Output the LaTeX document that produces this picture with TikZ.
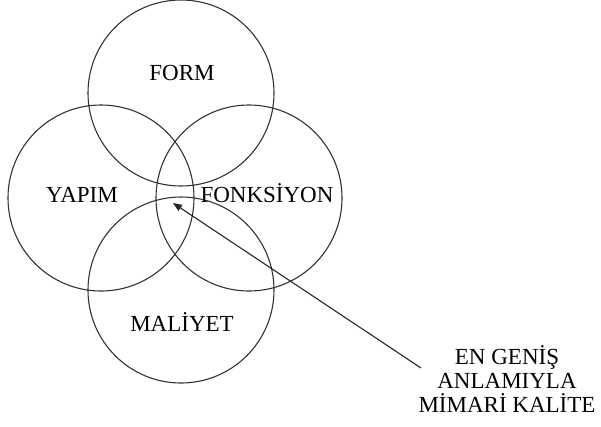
\documentclass[tikz,border=0pt]{standalone}
\usepackage{fontspec}
\setmainfont{Liberation Serif}
\usetikzlibrary{arrows.meta}
\begin{document}
\begin{tikzpicture}[x=1pt,y=-1pt,
  halka/.style={draw=black!80,circle,line width=1.1pt,minimum size=186pt,inner sep=0pt},
  yazi/.style={font=\fontsize{23}{24}\selectfont,inner sep=0pt}]
  \useasboundingbox (0,0) rectangle (601,426);
  \node[halka] (form) at (181,93) {}; \node[halka] (yapim) at (101,198) {}; \node[halka] (fonk) at (249,198) {}; \node[halka] (maliyet) at (181,290) {};
  \node[yazi] (tform) at (182,73) {FORM}; \node[yazi] (tyapim) at (82,195) {YAPIM}; \node[yazi] (tfonk) at (267,193) {FONKSİYON}; \node[yazi] (tmaliyet) at (182,322) {MALİYET};
  \node[yazi,align=center] (kalite) at (507,379) {EN GENİŞ\\ANLAMIYLA\\MİMARİ KALİTE};
  \coordinate (kuyruk) at (421,368); \coordinate (ok) at (173,203);
  \draw[-{Triangle[length=9pt,width=7pt]},line width=1.1pt,black!85] (kuyruk) -- (ok);
\end{tikzpicture}
\end{document}
